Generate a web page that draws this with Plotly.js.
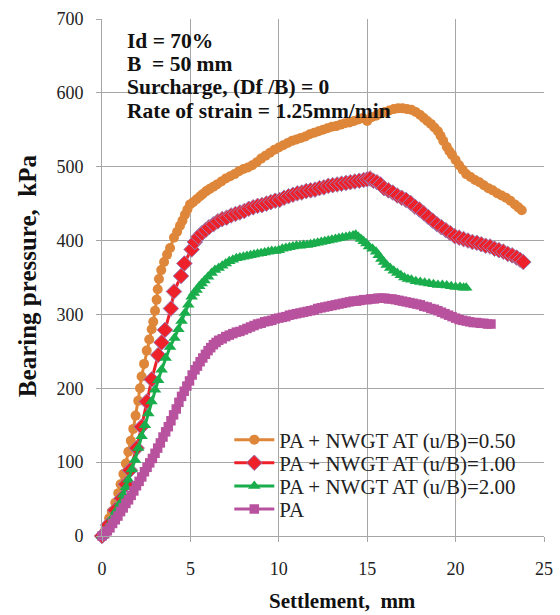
<!DOCTYPE html>
<html>
<head>
<meta charset="utf-8">
<script src="https://cdn.plot.ly/plotly-3.0.1.min.js"></script>
<style>
  html, body { margin: 0; padding: 0; background: #fff; }
  #chart { width: 560px; height: 615px; }
</style>
</head>
<body>
<div id="chart"></div>
<script>
// Load-settlement curves of a footing on sand, with and without a geotextile layer
const seriesNames = [
  "PA + NWGT AT (u/B)=0.50",
  "PA + NWGT AT (u/B)=1.00",
  "PA + NWGT AT (u/B)=2.00",
  "PA"
];

// Test conditions printed in the upper-left corner
const testNotes = [
  "Id = 70%",
  "B  = 50 mm",
  "Surcharge, (Df /B) = 0",
  "Rate of strain = 1.25mm/min"
];

// Settlement (mm) and bearing pressure (kPa) for u/B = 0.50
const settle050 = [0, 0.2, 0.4, 0.55, 0.75, 0.92, 1.05, 1.21, 1.35, 1.49, 1.63, 1.77, 1.9, 2.05, 2.15, 2.24, 2.38, 2.53, 2.67, 2.81, 2.9, 3.0, 3.09, 3.15, 3.22, 3.35, 3.51, 3.68, 3.85, 4.07, 4.25, 4.41, 4.55, 4.69, 4.83, 4.98, 5.15, 5.35, 5.55, 5.7, 5.9, 6.1, 6.3, 6.5, 6.75, 7.0, 7.25, 7.5, 7.75, 8.0, 8.25, 8.5, 8.75, 9.0, 9.25, 9.5, 9.75, 10.0, 10.25, 10.5, 10.75, 11.0, 11.25, 11.5, 11.75, 12.0, 12.25, 12.5, 12.75, 13.0, 13.25, 13.5, 13.75, 14.0, 14.25, 14.5, 14.75, 15.0, 15.25, 15.5, 15.75, 16.0, 16.25, 16.5, 16.75, 17.0, 17.25, 17.5, 17.75, 18.0, 18.2, 18.4, 18.6, 18.8, 19.0, 19.15, 19.3, 19.5, 19.65, 19.8, 20.0, 20.2, 20.4, 20.6, 20.85, 21.1, 21.35, 21.6, 21.85, 22.1, 22.35, 22.6, 22.85, 23.1, 23.35, 23.55, 23.74];
const press050 = [0, 10, 24, 33, 45, 58, 70, 84, 98, 114, 129, 145, 163, 183, 200, 216, 233, 251, 266, 280, 290, 305, 320, 334, 348, 360, 371, 381, 390, 404, 412, 420, 427, 435, 442, 449, 452, 456, 460, 463, 467, 470, 473, 476, 480, 484, 487, 490, 494, 497, 499, 502, 506, 511, 515, 519, 523, 526, 529, 532, 535, 537, 539, 541, 544, 546, 548, 550, 552, 554, 555, 557, 559, 560, 562, 564, 566, 562, 567, 569, 572, 574, 576, 578, 579, 579, 578, 577, 574, 570, 566, 562, 558, 553, 548, 542, 535, 527, 521, 516, 509, 502, 496, 490, 486, 482, 479, 475, 471, 468, 464, 461, 458, 454, 449, 445, 441];

// u/B = 1.00
const settle100 = [0, 0.35, 0.74, 1.11, 1.35, 1.58, 1.96, 2.24, 2.53, 2.81, 3.18, 3.37, 3.56, 3.9, 4.07, 4.47, 4.66, 5.07, 5.25, 5.45, 5.65, 5.85, 6.05, 6.3, 6.55, 6.8, 7.05, 7.3, 7.55, 7.8, 8.05, 8.3, 8.55, 8.8, 9.05, 9.3, 9.55, 9.8, 10.05, 10.3, 10.55, 10.8, 11.05, 11.3, 11.55, 11.8, 12.05, 12.3, 12.55, 12.8, 13.05, 13.3, 13.55, 13.8, 14.05, 14.3, 14.55, 14.8, 15.0, 15.16, 15.35, 15.55, 15.75, 15.95, 16.2, 16.45, 16.7, 16.95, 17.2, 17.45, 17.7, 17.95, 18.2, 18.45, 18.7, 18.95, 19.2, 19.45, 19.7, 19.95, 20.2, 20.45, 20.7, 20.95, 21.2, 21.45, 21.7, 21.95, 22.2, 22.45, 22.7, 22.95, 23.2, 23.45, 23.65, 23.83];
const press100 = [0, 15, 35, 51, 70, 89, 119, 148, 182, 212, 245, 262, 279, 308, 331, 352, 369, 388, 398, 405, 410, 414, 418, 422, 426, 429, 431, 434, 436, 438, 440, 443, 445, 447, 448, 450, 452, 454, 455, 458, 460, 462, 464, 465, 467, 468, 469, 471, 472, 474, 475, 476, 477, 478, 479, 480, 481, 482, 483, 484, 481, 479, 476, 471, 468, 465, 461, 458, 455, 451, 446, 442, 437, 432, 427, 422, 418, 414, 410, 406, 404, 402, 400, 398, 397, 395, 393, 392, 389, 387, 385, 382, 380, 377, 374, 371];

// u/B = 2.00
const settle200 = [0, 0.2, 0.4, 0.6, 0.8, 1.02, 1.2, 1.35, 1.49, 1.68, 1.87, 2.05, 2.24, 2.43, 2.62, 2.8, 3.0, 3.18, 3.37, 3.6, 3.85, 4.1, 4.32, 4.5, 4.69, 4.88, 5.07, 5.2, 5.35, 5.5, 5.64, 5.8, 6.0, 6.2, 6.39, 6.6, 6.8, 7.0, 7.2, 7.4, 7.6, 7.8, 8.0, 8.2, 8.4, 8.6, 8.8, 9.0, 9.2, 9.4, 9.6, 9.8, 10.0, 10.2, 10.4, 10.6, 10.8, 11.0, 11.2, 11.4, 11.6, 11.8, 12.0, 12.2, 12.4, 12.6, 12.8, 13.0, 13.2, 13.4, 13.6, 13.8, 14.0, 14.2, 14.35, 14.5, 14.65, 14.8, 14.95, 15.1, 15.3, 15.5, 15.65, 15.8, 15.95, 16.1, 16.3, 16.5, 16.7, 16.9, 17.1, 17.3, 17.5, 17.75, 18.0, 18.25, 18.5, 18.75, 19.0, 19.25, 19.5, 19.75, 20.0, 20.25, 20.45, 20.6];
const press200 = [0, 6, 15, 25, 34, 44, 56, 66, 76, 90, 103, 119, 135, 150, 166, 182, 198, 211, 225, 241, 256, 268, 280, 291, 302, 313, 324, 329, 333, 338, 342, 346, 351, 356, 360, 363, 366, 369, 372, 374, 376, 377, 378, 379, 380, 381, 382, 383, 384, 385, 386, 386, 387, 389, 390, 391, 392, 393, 393, 394, 394, 395, 396, 397, 398, 399, 400, 401, 402, 403, 404, 405, 406, 407, 408, 405, 402, 399, 396, 392, 389, 385, 380, 375, 371, 367, 363, 359, 356, 353, 350, 348, 347, 345, 344, 343, 342, 341, 340, 340, 339, 338, 337, 337, 336, 336];

// Plain sand (PA)
const settlePA = [0, 0.15, 0.3, 0.45, 0.6, 0.75, 0.9, 1.05, 1.2, 1.35, 1.5, 1.65, 1.8, 1.95, 2.1, 2.25, 2.4, 2.55, 2.7, 2.85, 3.0, 3.15, 3.3, 3.45, 3.6, 3.75, 3.9, 4.05, 4.2, 4.35, 4.5, 4.65, 4.8, 4.95, 5.1, 5.26, 5.4, 5.55, 5.7, 5.85, 6.0, 6.15, 6.3, 6.45, 6.6, 6.8, 7.0, 7.2, 7.4, 7.6, 7.8, 8.0, 8.2, 8.4, 8.6, 8.8, 9.0, 9.2, 9.4, 9.6, 9.8, 10.0, 10.2, 10.4, 10.6, 10.8, 11.0, 11.2, 11.4, 11.6, 11.8, 12.0, 12.2, 12.4, 12.6, 12.8, 13.0, 13.2, 13.4, 13.6, 13.8, 14.0, 14.2, 14.4, 14.6, 14.8, 15.0, 15.2, 15.4, 15.6, 15.8, 16.0, 16.2, 16.4, 16.6, 16.8, 17.0, 17.2, 17.4, 17.6, 17.8, 18.0, 18.2, 18.4, 18.6, 18.8, 19.0, 19.2, 19.4, 19.6, 19.8, 20.0, 20.2, 20.4, 20.6, 20.8, 21.0, 21.2, 21.4, 21.6, 21.8, 22.0];
const pressPA = [0, 3, 7, 11, 17, 22, 27, 33, 38, 44, 49, 55, 61, 68, 74, 80, 87, 93, 99, 105, 112, 119, 126, 134, 141, 148, 156, 164, 172, 181, 189, 196, 203, 210, 218, 225, 230, 236, 241, 246, 251, 255, 259, 262, 265, 267, 270, 272, 274, 276, 277, 279, 281, 283, 285, 287, 288, 290, 291, 292, 294, 295, 296, 297, 299, 300, 301, 302, 303, 304, 305, 306, 308, 309, 310, 311, 312, 313, 314, 315, 316, 317, 318, 318, 319, 320, 320, 321, 321, 322, 322, 322, 321, 321, 320, 319, 318, 317, 316, 315, 314, 313, 311, 310, 308, 307, 305, 303, 301, 299, 297, 295, 293, 292, 291, 290, 289, 289, 288, 288, 287, 287];

const xTicks = [0, 5, 10, 15, 20, 25];
const yTicks = [0, 100, 200, 300, 400, 500, 600, 700];

const serif = "'Liberation Serif', 'Times New Roman', serif";
const gridGrey = "#a6a6a6";

const colors = ["#de8639", "#ee2029", "#19ad4b", "#b8529e"];
const legendIds = ["legend", "legend2", "legend3", "legend4"];

const traces = [
  {
    name: seriesNames[0], x: settle050, y: press050, mode: "lines+markers", cliponaxis: false,
    legend: legendIds[0],
    line: { color: colors[0], width: 3 },
    marker: { symbol: "circle", size: 10, color: colors[0] }
  },
  {
    name: seriesNames[1], x: settle100, y: press100, mode: "lines+markers", cliponaxis: false,
    legend: legendIds[1],
    line: { color: colors[1], width: 3 },
    marker: { symbol: "diamond", size: 12, color: colors[1], line: { color: "#9a7fb8", width: 1 } }
  },
  {
    name: seriesNames[2], x: settle200, y: press200, mode: "lines+markers", cliponaxis: false,
    legend: legendIds[2],
    line: { color: colors[2], width: 3 },
    marker: { symbol: "triangle-up", size: 11, color: colors[2] }
  },
  {
    name: seriesNames[3], x: settlePA, y: pressPA, mode: "lines+markers", cliponaxis: false,
    legend: legendIds[3],
    line: { color: colors[3], width: 3 },
    marker: { symbol: "square", size: 9.5, color: colors[3] }
  }
];

// one single-entry legend per series, stacked with a tight row pitch
const legendRowsY = [0.1857, 0.1410, 0.0962, 0.0515];
function legendBox(y) {
  return {
    x: 0.288, y: y, xanchor: "left", yanchor: "middle",
    bgcolor: "rgba(0,0,0,0)", borderwidth: 0,
    font: { family: serif, size: 21, color: "#222" },
    itemwidth: 40
  };
}

// test notes, one line each
const noteRowsY = [0.9574, 0.9130, 0.8685, 0.8221];
const noteAnnotations = testNotes.map((t, i) => ({
  xref: "paper", yref: "paper", x: 0.053, y: noteRowsY[i], xanchor: "left", yanchor: "middle",
  align: "left", showarrow: false, text: "<b>" + t + "</b>",
  font: { family: serif, size: 21.5, color: "#111" }
}));

const layout = {
  width: 560, height: 615,
  margin: { l: 102, r: 16, t: 19, b: 79 },
  paper_bgcolor: "#fff", plot_bgcolor: "#fff",
  font: { family: serif, color: "#222", size: 18 },
  showlegend: true,
  legend: legendBox(legendRowsY[0]),
  legend2: legendBox(legendRowsY[1]),
  legend3: legendBox(legendRowsY[2]),
  legend4: legendBox(legendRowsY[3]),
  xaxis: {
    range: [0, 25], tickvals: xTicks, ticktext: xTicks.map(String),
    showgrid: true, gridcolor: gridGrey, gridwidth: 1,
    showline: true, linecolor: gridGrey, linewidth: 1, mirror: false,
    ticks: "outside", ticklen: 5, tickcolor: gridGrey,
    ticklabelstandoff: 11, zeroline: false,
    tickfont: { family: serif, size: 18, color: "#222" }
  },
  yaxis: {
    range: [0, 700], tickvals: yTicks, ticktext: yTicks.map(String),
    showgrid: true, gridcolor: gridGrey, gridwidth: 1,
    showline: true, linecolor: gridGrey, linewidth: 1,
    ticks: "outside", ticklen: 5, tickcolor: gridGrey,
    ticklabelstandoff: 9, zeroline: false,
    tickfont: { family: serif, size: 18, color: "#222" }
  },
  annotations: noteAnnotations.concat([
    {
      xref: "paper", yref: "paper", x: 0.543, y: -0.1257, xanchor: "center", yanchor: "middle",
      showarrow: false, text: "<b>Settlement,  mm</b>",
      font: { family: serif, size: 21, color: "#111" }
    },
    {
      xref: "paper", yref: "paper", x: -0.167, y: 0.503, xanchor: "center", yanchor: "middle",
      textangle: -90, showarrow: false, text: "<b>Bearing pressure,  kPa</b>",
      font: { family: serif, size: 25, color: "#111" }
    }
  ])
};

Plotly.newPlot("chart", traces, layout, { displayModeBar: false, staticPlot: true });
</script>
</body>
</html>
